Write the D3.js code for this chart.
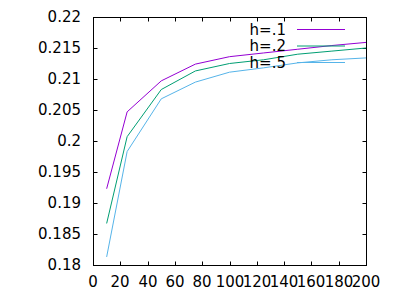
<!DOCTYPE html>
<html>
<head>
<meta charset="utf-8">
<script src="https://cdn.jsdelivr.net/npm/d3@7"></script>
<style>
  body { margin: 0; background: #fff; }
  text { font-family: "DejaVu Sans", sans-serif; font-size: 15px; fill: #000; }
</style>
</head>
<body>
<svg id="chart" width="400" height="300"></svg>
<script>
var xs = [10, 25, 50, 75, 100, 125, 150, 175, 200]
var h1 = [0.1923, 0.2047, 0.2097, 0.2124, 0.2136, 0.2142, 0.2148, 0.2154, 0.2159]
var h2 = [0.1867, 0.2007, 0.2083, 0.2113, 0.2125, 0.2131, 0.2140, 0.2145, 0.2150]
var h5 = [0.1813, 0.1983, 0.2068, 0.2095, 0.2111, 0.2118, 0.2126, 0.2131, 0.2134]
var labels = ['h=.1', 'h=.2', 'h=.5']
var colors = ['#9400d3', '#009e73', '#56b4e9']
var xTicks = [0, 20, 40, 60, 80, 100, 120, 140, 160, 180, 200]
var yTicks = ['0.18', '0.185', '0.19', '0.195', '0.2', '0.205', '0.21', '0.215', '0.22']

var svg = d3.select('#chart')
var plotL = 93, plotR = 366, plotT = 17, plotB = 265

var x = d3.scaleLinear().domain([0, 200]).range([plotL, plotR])
var y = d3.scaleLinear().domain([0.18, 0.22]).range([plotB, plotT])

/** ticks, mirrored on all sides, pointing inward */
var g = svg.append('g').attr('transform', 'translate(0.5,0.5)')
xTicks.forEach(function (t) {
  var px = Math.round(x(t))
  g.append('line').attr('x1', px).attr('x2', px).attr('y1', plotB).attr('y2', plotB - 4).attr('stroke', '#000')
  g.append('line').attr('x1', px).attr('x2', px).attr('y1', plotT).attr('y2', plotT + 4).attr('stroke', '#000')
  svg.append('text').attr('x', px).attr('y', 287).attr('text-anchor', 'middle').text(t)
})
yTicks.forEach(function (t) {
  var py = Math.round(y(+t))
  g.append('line').attr('x1', plotL).attr('x2', plotL + 4).attr('y1', py).attr('y2', py).attr('stroke', '#000')
  g.append('line').attr('x1', plotR).attr('x2', plotR - 4).attr('y1', py).attr('y2', py).attr('stroke', '#000')
  svg.append('text').attr('x', 81).attr('y', py + 5).attr('text-anchor', 'end').text(t)
})
g.append('rect').attr('x', plotL).attr('y', plotT).attr('width', plotR - plotL).attr('height', plotB - plotT)
  .attr('fill', 'none').attr('stroke', '#000')

/** series */
var line = d3.line().x(function (d) { return x(d[0]) }).y(function (d) { return y(d[1]) })
;[h1, h2, h5].forEach(function (s, k) {
  svg.append('path').attr('d', line(xs.map(function (v, j) { return [v, s[j]] })))
    .attr('fill', 'none').attr('stroke', colors[k]).attr('stroke-width', 1)
})

/** key */
labels.forEach(function (l, k) {
  var ky = 29.5 + k * 16.5
  svg.append('text').attr('x', 286).attr('y', ky + 5).attr('text-anchor', 'end').text(l)
  svg.append('line').attr('x1', 297).attr('x2', 345).attr('y1', ky).attr('y2', ky)
    .attr('stroke', colors[k]).attr('stroke-width', 1)
})
</script>
</body>
</html>
